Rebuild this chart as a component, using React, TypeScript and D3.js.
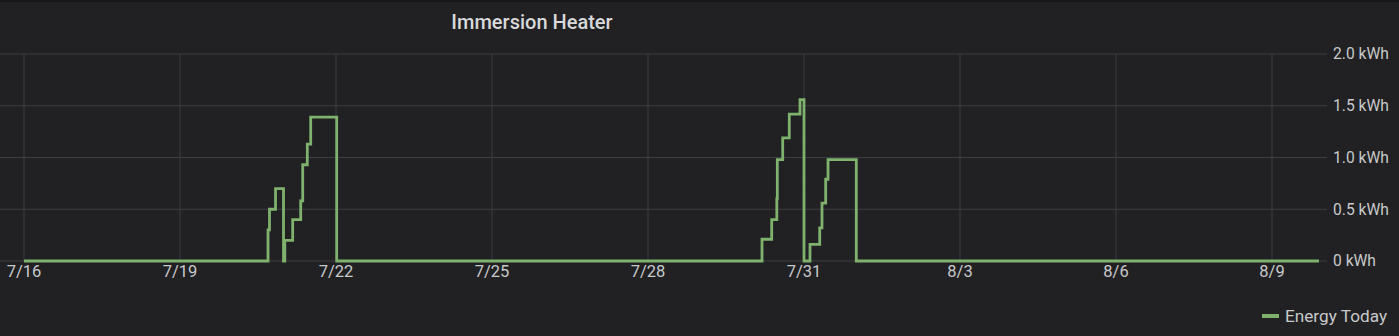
import React from "react";
import * as d3 from "d3";

const TITLE = "Immersion Heater";
const SERIES_NAME = "Energy Today";

// timestamps of step changes and the value from that moment on
const times: string[] = [
  "2020-07-16T00:00", "2020-07-20T16:37", "2020-07-20T17:18", "2020-07-20T20:05",
  "2020-07-20T23:46", "2020-07-21T00:22", "2020-07-21T04:00", "2020-07-21T07:42",
  "2020-07-21T08:38", "2020-07-21T10:45", "2020-07-21T12:19", "2020-07-22T00:19",
  "2020-07-30T04:37", "2020-07-30T09:05", "2020-07-30T11:27", "2020-07-30T11:41",
  "2020-07-30T14:10", "2020-07-30T17:12", "2020-07-30T22:09", "2020-07-31T00:00",
  "2020-07-31T02:46", "2020-07-31T07:15", "2020-07-31T08:18", "2020-07-31T10:00",
  "2020-07-31T11:05", "2020-08-01T00:08", "2020-08-09T21:42",
];
const values: number[] = [
  0, 0.3, 0.5, 0.7,
  0, 0.2, 0.4, 0.58,
  0.93, 1.13, 1.39, 0,
  0.21, 0.4, 0.6, 0.98,
  1.19, 1.42, 1.56, 0,
  0.16, 0.32, 0.56, 0.79,
  0.98, 0, 0,
];

const xTickLabels: string[] = ["7/16", "7/19", "7/22", "7/25", "7/28", "7/31", "8/3", "8/6", "8/9"];
const xTickDates: string[] = [
  "2020-07-16T00:00", "2020-07-19T00:00", "2020-07-22T00:00", "2020-07-25T00:00",
  "2020-07-28T00:00", "2020-07-31T00:00", "2020-08-03T00:00", "2020-08-06T00:00", "2020-08-09T00:00",
];
const yTicks: number[] = [0, 0.5, 1.0, 1.5, 2.0];
const yTickLabels: string[] = ["0 kWh", "0.5 kWh", "1.0 kWh", "1.5 kWh", "2.0 kWh"];

const X_DOMAIN: string[] = ["2020-07-15T12:55", "2020-08-10T01:23"];

export default function App() {
  const W = 1399, H = 336;
  const left = 0, right = 1327, top = 54, bottom = 261;
  const parse = (s: string) => new Date(s);
  const x = d3.scaleTime().domain(X_DOMAIN.map(parse)).range([left, right]);
  const y = d3.scaleLinear().domain([0, 2]).range([bottom, top]);
  const data = times.map((t, i) => ({ t: parse(t), v: values[i] }));
  const line = d3.line<{ t: Date; v: number }>()
    .x(d => x(d.t))
    .y(d => y(d.v))
    .curve(d3.curveStepAfter);
  const font = "Roboto, 'Noto Sans', sans-serif";
  const grid = "#3e3f43";
  const textCol = "#c8c9ca";
  return (
    <svg width={W} height={H} style={{ position: "absolute", left: 0, top: 0, background: "#212124" }}>
      <rect x={0} y={0} width={W} height={H} fill="#212124" />
      <rect x={0} y={0} width={W} height={2} fill="#161719" />
      <text x={532} y={29} textAnchor="middle" fill="#d8d9da" fontFamily={font} fontSize={20} fontWeight={500}>{TITLE}</text>
      {yTicks.map((t, i) => (
        <g key={"y" + i}>
          <line x1={left} x2={right} y1={y(t)} y2={y(t)} stroke={grid} strokeWidth={1} />
          <text x={1333} y={y(t)} dy="0.35em" fill={textCol} fontFamily={font} fontSize={15.6}>{yTickLabels[i]}</text>
        </g>
      ))}
      {xTickDates.map((d, i) => (
        <g key={"x" + i}>
          <line x1={x(parse(d))} x2={x(parse(d))} y1={top} y2={bottom} stroke={grid} strokeWidth={1} />
          <text x={x(parse(d))} y={277} textAnchor="middle" fill={textCol} fontFamily={font} fontSize={16.5}>{xTickLabels[i]}</text>
        </g>
      ))}
      <path d={line(data) || ""} fill="none" stroke="#7eb26d" strokeWidth={2.8} />
      <rect x={1262} y={314} width={17} height={4} fill="#7eb26d" />
      <text x={1285} y={316} dy="0.35em" fill={textCol} fontFamily={font} fontSize={17.2}>{SERIES_NAME}</text>
    </svg>
  );
}
